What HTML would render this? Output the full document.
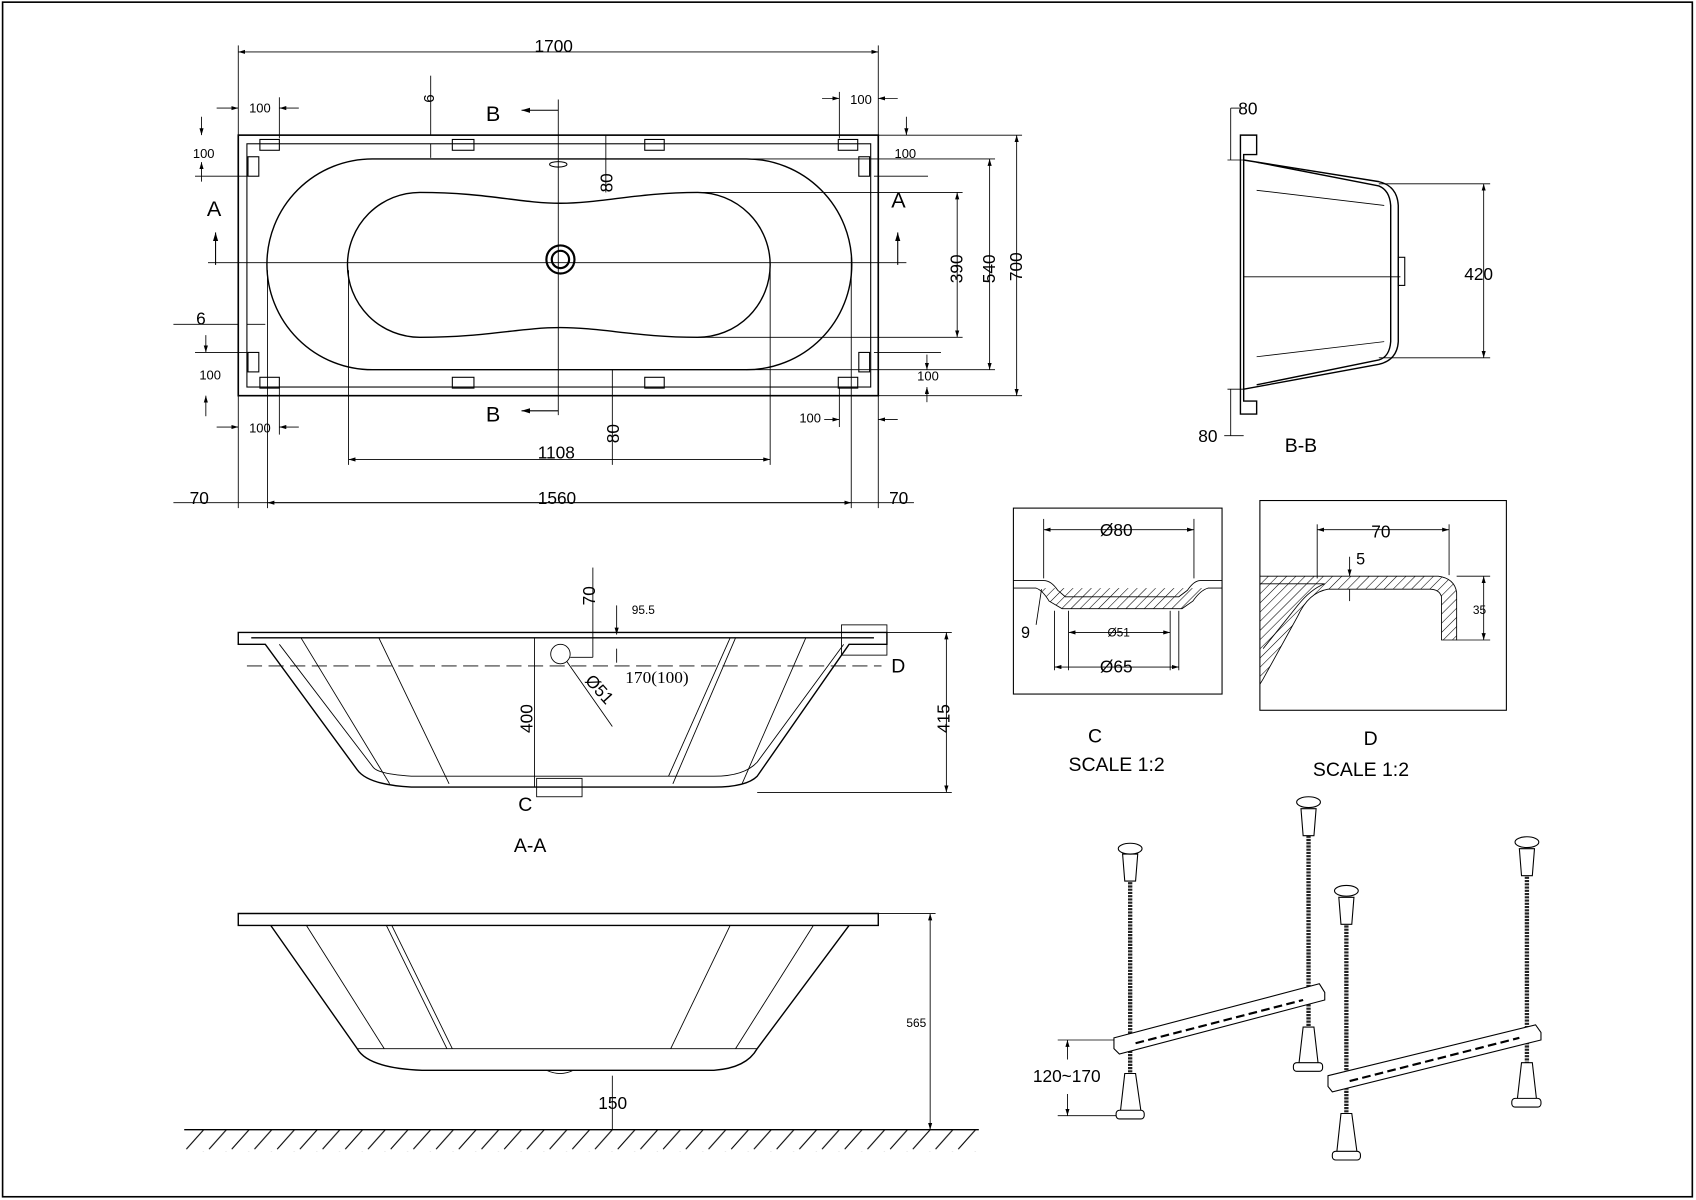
<!DOCTYPE html>
<html><head><meta charset="utf-8"><style>html,body{margin:0;padding:0;background:#fff}svg{display:block}</style></head><body>
<svg width="1696" height="1200" viewBox="0 0 1568 1110" xmlns="http://www.w3.org/2000/svg" font-family="Liberation Sans, sans-serif" fill="none" stroke="#000" stroke-width="1">
<defs>
<marker id="a" viewBox="0 0 10 6" refX="10" refY="3" markerWidth="8" markerHeight="5" orient="auto-start-reverse"><path d="M0,0L10,3L0,6" fill="#000" stroke="none"/></marker>
<pattern id="h" width="6" height="6" patternUnits="userSpaceOnUse" patternTransform="rotate(45)"><line x1="0" y1="0" x2="0" y2="6" stroke="#000" stroke-width="1"/></pattern>
<pattern id="g" x="170" y="1045" width="21" height="20" patternUnits="userSpaceOnUse"><line x1="2" y1="18" x2="18" y2="0" stroke="#000" stroke-width="1"/></pattern>
</defs>
<rect x="2" y="2" width="1563" height="1105" stroke-width="1.5"/>

<!-- PLAN VIEW -->
<rect x="220" y="125" width="592" height="241" stroke-width="1.5"/>
<rect x="228" y="133" width="577" height="225"/>
<path d="M344,147 H690 A97,97 0 0 1 690,342 H344 A97,97 0 0 1 344,147 Z" stroke-width="1.3"/>
<path d="M388,178 C450,178 480,188 518,188 C556,188 590,178 645,178 A67,67 0 0 1 645,312 C590,312 556,303 518,303 C480,303 450,312 388,312 A67,67 0 0 1 388,178 Z" stroke-width="1.3"/>
<circle cx="518" cy="240" r="13" stroke-width="2"/><circle cx="518" cy="240" r="8" stroke-width="2"/>
<ellipse cx="516" cy="152" rx="8" ry="2.5"/>
<g stroke-width="1">
<rect x="240" y="129" width="18" height="10"/><rect x="418" y="129" width="20" height="10"/><rect x="596" y="129" width="18" height="10"/><rect x="775" y="129" width="18" height="10"/>
<rect x="240" y="349" width="18" height="10"/><rect x="418" y="349" width="20" height="10"/><rect x="596" y="349" width="18" height="10"/><rect x="775" y="349" width="18" height="10"/>
<rect x="229" y="145" width="10" height="18"/><rect x="229" y="326" width="10" height="18"/><rect x="794" y="145" width="10" height="18"/><rect x="794" y="326" width="10" height="18"/>
</g>
<line x1="516" y1="92" x2="516" y2="384" stroke-width="0.8"/>
<line x1="192" y1="243" x2="838" y2="243" stroke-width="0.8"/>
<line x1="516" y1="102" x2="482" y2="102" marker-end="url(#a)"/>
<line x1="516" y1="380" x2="482" y2="380" marker-end="url(#a)"/>
<text x="449" y="112" font-size="20" fill="#000" stroke="none">B</text>
<text x="449" y="390" font-size="20" fill="#000" stroke="none">B</text>
<line x1="199" y1="245" x2="199" y2="215" marker-end="url(#a)"/>
<line x1="830" y1="245" x2="830" y2="215" marker-end="url(#a)"/>
<text x="191" y="200" font-size="20" fill="#000" stroke="none">A</text>
<text x="824" y="192" font-size="20" fill="#000" stroke="none">A</text>
<g stroke-width="0.8">
<line x1="220" y1="42" x2="220" y2="125"/><line x1="812" y1="42" x2="812" y2="125"/>
<line x1="220" y1="48" x2="812" y2="48" marker-start="url(#a)" marker-end="url(#a)"/>
<line x1="220" y1="366" x2="220" y2="470"/><line x1="247" y1="250" x2="247" y2="470"/><line x1="787" y1="238" x2="787" y2="470"/><line x1="812" y1="366" x2="812" y2="470"/>
<line x1="160" y1="465" x2="845" y2="465"/>
<line x1="247" y1="465" x2="787" y2="465" marker-start="url(#a)" marker-end="url(#a)"/>
<line x1="322" y1="250" x2="322" y2="430"/><line x1="712" y1="250" x2="712" y2="430"/>
<line x1="322" y1="425" x2="712" y2="425" marker-start="url(#a)" marker-end="url(#a)"/>
<line x1="812" y1="125" x2="945" y2="125"/><line x1="812" y1="366" x2="945" y2="366"/>
<line x1="940" y1="125" x2="940" y2="366" marker-start="url(#a)" marker-end="url(#a)"/>
<line x1="690" y1="147" x2="920" y2="147"/><line x1="690" y1="342" x2="920" y2="342"/>
<line x1="915" y1="147" x2="915" y2="342" marker-start="url(#a)" marker-end="url(#a)"/>
<line x1="645" y1="178" x2="890" y2="178"/><line x1="645" y1="312" x2="890" y2="312"/>
<line x1="885" y1="178" x2="885" y2="312" marker-start="url(#a)" marker-end="url(#a)"/>
<line x1="560" y1="125" x2="560" y2="178"/><line x1="566" y1="342" x2="566" y2="430"/>
<line x1="398" y1="70" x2="398" y2="125"/><line x1="398" y1="133" x2="398" y2="146"/>
<line x1="160" y1="300" x2="220" y2="300"/><line x1="228" y1="300" x2="245" y2="300"/>
<line x1="200" y1="100" x2="220" y2="100" marker-end="url(#a)"/><line x1="276" y1="100" x2="258" y2="100" marker-end="url(#a)"/><line x1="258" y1="90" x2="258" y2="128"/>
<line x1="760" y1="91" x2="776" y2="91" marker-end="url(#a)"/><line x1="830" y1="91" x2="812" y2="91" marker-end="url(#a)"/><line x1="776" y1="85" x2="776" y2="128"/>
<line x1="200" y1="395" x2="220" y2="395" marker-end="url(#a)"/><line x1="276" y1="395" x2="258" y2="395" marker-end="url(#a)"/><line x1="258" y1="358" x2="258" y2="402"/>
<line x1="762" y1="388" x2="776" y2="388" marker-end="url(#a)"/><line x1="830" y1="388" x2="812" y2="388" marker-end="url(#a)"/><line x1="776" y1="358" x2="776" y2="395"/>
<line x1="186" y1="108" x2="186" y2="125" marker-end="url(#a)"/><line x1="186" y1="168" x2="186" y2="150" marker-end="url(#a)"/><line x1="180" y1="163" x2="228" y2="163"/>
<line x1="190" y1="310" x2="190" y2="326" marker-end="url(#a)"/><line x1="190" y1="385" x2="190" y2="366" marker-end="url(#a)"/><line x1="180" y1="326" x2="228" y2="326"/>
<line x1="838" y1="108" x2="838" y2="125" marker-end="url(#a)"/><line x1="808" y1="163" x2="858" y2="163"/>
<line x1="857" y1="328" x2="857" y2="342" marker-end="url(#a)"/><line x1="857" y1="372" x2="857" y2="358" marker-end="url(#a)"/><line x1="808" y1="326" x2="870" y2="326"/>
</g>
<g fill="#000" stroke="none" font-size="16">
<text x="494" y="48">1700</text><text x="497" y="466">1560</text><text x="175" y="466">70</text><text x="822" y="466">70</text>
<text x="497" y="424">1108</text>
<text x="945" y="260" transform="rotate(-90 945 260)">700</text>
<text x="920" y="262" transform="rotate(-90 920 262)">540</text>
<text x="890" y="262" transform="rotate(-90 890 262)">390</text>
<text x="566" y="178" transform="rotate(-90 566 178)">80</text>
<text x="572" y="410" transform="rotate(-90 572 410)">80</text>
<text x="401" y="95" font-size="14" transform="rotate(-90 401 95)">6</text>
<text x="181" y="300">6</text>
<g font-size="12"><text x="230" y="104">100</text><text x="786" y="96">100</text><text x="178" y="146">100</text><text x="827" y="146">100</text><text x="184" y="351">100</text><text x="848" y="352">100</text><text x="230" y="400">100</text><text x="739" y="391">100</text></g>
</g>

<!-- B-B -->
<g stroke-width="1.3">
<path d="M1147,125 H1162 V143 H1150 V371 H1162 V383 H1147 Z"/>
<path d="M1150,148 L1275,168 Q1292,172 1293,190 V316 Q1292,333 1275,337 L1150,360"/>
<path d="M1162,150 L1275,172 Q1285,176 1286,190 V316 Q1285,330 1275,333 L1162,356"/>
<line x1="1162" y1="176" x2="1280" y2="190" stroke-width="0.8"/><line x1="1162" y1="330" x2="1280" y2="316" stroke-width="0.8"/>
<rect x="1293" y="238" width="6" height="26" stroke-width="1"/>
</g>
<g stroke-width="0.8">
<line x1="1150" y1="256" x2="1295" y2="256"/>
<line x1="1275" y1="170" x2="1378" y2="170"/><line x1="1275" y1="331" x2="1378" y2="331"/>
<line x1="1372" y1="170" x2="1372" y2="331" marker-start="url(#a)" marker-end="url(#a)"/>
<line x1="1138" y1="100" x2="1138" y2="148"/>
<line x1="1135" y1="148" x2="1150" y2="148"/><line x1="1138" y1="100" x2="1147" y2="100"/>
<line x1="1138" y1="360" x2="1138" y2="403"/><line x1="1135" y1="360" x2="1150" y2="360"/><line x1="1132" y1="403" x2="1150" y2="403"/>
</g>
<g fill="#000" stroke="none" font-size="16"><text x="1145" y="106">80</text><text x="1108" y="409">80</text><text x="1354" y="259">420</text><text x="1188" y="418" font-size="18">B-B</text></g>

<!-- A-A -->
<g stroke-width="1.3">
<path d="M220,585 H820 V596 H803 L785,596 L700,718 Q690,728 660,728 L380,728 Q340,726 330,712 L245,596 H220 Z"/>
<path d="M232,590 H808"/>
<path d="M258,596 L345,710 Q350,716 380,718 L660,718 Q688,718 700,705 L780,596" stroke-width="0.8"/>
</g>
<g stroke-width="0.8">
<line x1="278" y1="590" x2="360" y2="725"/><line x1="350" y1="590" x2="415" y2="725"/><line x1="680" y1="590" x2="622" y2="725"/><line x1="745" y1="590" x2="686" y2="725"/>
<line x1="675" y1="590" x2="618" y2="718"/>
<rect x="778" y="578" width="42" height="28"/>
<rect x="496" y="720" width="42" height="17"/>
<line x1="228" y1="616" x2="815" y2="616" stroke-dasharray="14,6"/>
<line x1="494" y1="590" x2="494" y2="728"/>
<circle cx="518" cy="605" r="9"/>
<line x1="548" y1="525" x2="548" y2="608"/><line x1="527" y1="608" x2="548" y2="608"/>
<line x1="570" y1="560" x2="570" y2="587" marker-end="url(#a)"/><line x1="570" y1="600" x2="570" y2="613"/>
<line x1="524" y1="612" x2="566" y2="672"/>
<line x1="820" y1="585" x2="880" y2="585"/><line x1="700" y1="733" x2="880" y2="733"/>
<line x1="875" y1="585" x2="875" y2="733" marker-start="url(#a)" marker-end="url(#a)"/>
</g>
<g fill="#000" stroke="none" font-size="16">
<text x="550" y="560" transform="rotate(-90 550 560)">70</text>
<text x="584" y="568" font-size="11">95.5</text>
<text x="578" y="632" font-family="Liberation Serif, serif">170(100)</text>
<text x="540" y="630" transform="rotate(48 540 630)">Ø51</text>
<text x="492" y="678" transform="rotate(-90 492 678)">400</text>
<text x="878" y="678" transform="rotate(-90 878 678)">415</text>
<text x="824" y="622" font-size="18">D</text><text x="479" y="750" font-size="18">C</text>
<text x="475" y="788" font-size="18">A-A</text>
</g>

<!-- Elevation -->
<g stroke-width="1.3">
<path d="M220,845 H812 V856 H220 Z"/>
<path d="M250,856 L330,970 Q340,988 390,990 L660,990 Q690,988 700,970 L785,856"/>
<path d="M330,970 H700" stroke-width="0.8"/>
</g>
<g stroke-width="0.8">
<line x1="283" y1="856" x2="355" y2="970"/><line x1="357" y1="856" x2="413" y2="970"/><line x1="362" y1="856" x2="418" y2="970"/>
<line x1="675" y1="856" x2="620" y2="970"/><line x1="752" y1="856" x2="680" y2="970"/>
<path d="M505,990 Q518,996 530,990"/>
<line x1="812" y1="845" x2="865" y2="845"/>
<line x1="860" y1="845" x2="860" y2="1045" marker-start="url(#a)" marker-end="url(#a)"/>
<line x1="566" y1="995" x2="566" y2="1045"/>
</g>
<rect x="170" y="1045" width="735" height="20" fill="url(#g)" stroke="none"/>
<line x1="170" y1="1045" x2="905" y2="1045" stroke-width="1.3"/>
<g fill="#000" stroke="none" font-size="16"><text x="553" y="1026">150</text><text x="838" y="950" font-size="11">565</text></g>

<!-- Detail C -->
<rect x="937" y="470" width="193" height="172"/>
<g stroke-width="0.8">
<path d="M937,537 H965 Q972,537 978,546 L985,552 H1090 L1098,546 Q1104,537 1110,537 H1130"/>
<path d="M937,544 H958 Q964,546 970,556 L982,563 H1093 L1103,556 Q1110,546 1117,544 H1130" fill="url(#h)"/>
<line x1="965" y1="480" x2="965" y2="535"/><line x1="1104" y1="480" x2="1104" y2="535"/>
<line x1="965" y1="490" x2="1104" y2="490" marker-start="url(#a)" marker-end="url(#a)"/>
<line x1="988" y1="565" x2="988" y2="620"/><line x1="1082" y1="565" x2="1082" y2="620"/>
<line x1="988" y1="585" x2="1082" y2="585" marker-start="url(#a)" marker-end="url(#a)"/>
<line x1="975" y1="617" x2="1090" y2="617" marker-start="url(#a)" marker-end="url(#a)"/>
<line x1="975" y1="565" x2="975" y2="620"/><line x1="1090" y1="565" x2="1090" y2="620"/>
<line x1="958" y1="578" x2="963" y2="545"/>
</g>
<g fill="#000" stroke="none"><text x="1017" y="496" font-size="16">Ø80</text><text x="1024" y="589" font-size="11">Ø51</text><text x="1017" y="622" font-size="16">Ø65</text><text x="944" y="590" font-size="15">9</text>
<text x="1006" y="687" font-size="18">C</text><text x="988" y="713" font-size="18">SCALE 1:2</text></g>

<!-- Detail D -->
<rect x="1165" y="463" width="228" height="194"/>
<g stroke-width="0.8">
<path d="M1165,533 H1330 Q1345,535 1347,548 V592 H1333 V552 Q1331,545 1322,545 H1228 Q1210,548 1200,570 L1168,628 L1165,633" fill="url(#h)"/>
<path d="M1165,540 H1225 Q1212,545 1200,560 L1168,600"/>
<line x1="1218" y1="485" x2="1218" y2="535"/><line x1="1340" y1="485" x2="1340" y2="532"/>
<line x1="1218" y1="490" x2="1340" y2="490" marker-start="url(#a)" marker-end="url(#a)"/>
<line x1="1248" y1="515" x2="1248" y2="533" marker-end="url(#a)"/><line x1="1248" y1="545" x2="1248" y2="556"/>
<line x1="1347" y1="533" x2="1378" y2="533"/><line x1="1347" y1="592" x2="1378" y2="592"/>
<line x1="1372" y1="533" x2="1372" y2="592" marker-start="url(#a)" marker-end="url(#a)"/>
</g>
<g fill="#000" stroke="none"><text x="1268" y="497" font-size="16">70</text><text x="1254" y="522" font-size="15">5</text><text x="1362" y="568" font-size="11">35</text>
<text x="1261" y="689" font-size="18">D</text><text x="1214" y="718" font-size="18">SCALE 1:2</text></g>

<!-- Legs -->
<g stroke-width="1">
<g stroke-width="4" stroke="#222" stroke-dasharray="2,1">
<line x1="1045" y1="810" x2="1045" y2="1000"/><line x1="1210" y1="770" x2="1210" y2="960"/>
<line x1="1245" y1="850" x2="1245" y2="1040"/><line x1="1412" y1="805" x2="1412" y2="990"/>
</g>
<g fill="#fff">
<path d="M1038,790 L1052,790 L1050,815 L1040,815 Z"/><ellipse cx="1045" cy="785" rx="11" ry="5"/>
<path d="M1203,748 L1217,748 L1215,773 L1205,773 Z"/><ellipse cx="1210" cy="742" rx="11" ry="5"/>
<path d="M1238,830 L1252,830 L1250,855 L1240,855 Z"/><ellipse cx="1245" cy="824" rx="11" ry="5"/>
<path d="M1405,785 L1419,785 L1417,810 L1407,810 Z"/><ellipse cx="1412" cy="779" rx="11" ry="5"/>
</g>
<g fill="#fff">
<path d="M1030,960 L1220,910 L1225,918 L1225,925 L1035,975 L1030,970 Z"/>
<path d="M1228,995 L1420,948 L1425,955 L1425,962 L1232,1010 L1228,1005 Z"/>
</g>
<line x1="1050" y1="965" x2="1205" y2="925" stroke-dasharray="8,4" stroke-width="2"/>
<line x1="1248" y1="1000" x2="1405" y2="960" stroke-dasharray="8,4" stroke-width="2"/>
<g fill="#fff">
<path d="M1040,993 L1050,993 L1055,1028 L1036,1028 Z"/><rect x="1032" y="1027" width="26" height="8" rx="3"/>
<path d="M1205,950 L1215,950 L1219,985 L1201,985 Z"/><rect x="1196" y="983" width="27" height="8" rx="3"/>
<path d="M1240,1030 L1250,1030 L1255,1067 L1236,1067 Z"/><rect x="1232" y="1065" width="26" height="8" rx="3"/>
<path d="M1407,983 L1417,983 L1421,1018 L1403,1018 Z"/><rect x="1398" y="1016" width="27" height="8" rx="3"/>
</g>
</g>
<g stroke-width="0.8">
<line x1="978" y1="962" x2="1030" y2="962"/><line x1="978" y1="1032" x2="1032" y2="1032"/>
<line x1="987" y1="962" x2="987" y2="980" marker-start="url(#a)"/><line x1="987" y1="1012" x2="987" y2="1032" marker-end="url(#a)"/>
</g>
<text x="955" y="1001" font-size="16" fill="#000" stroke="none">120~170</text>
</svg>
</body></html>
